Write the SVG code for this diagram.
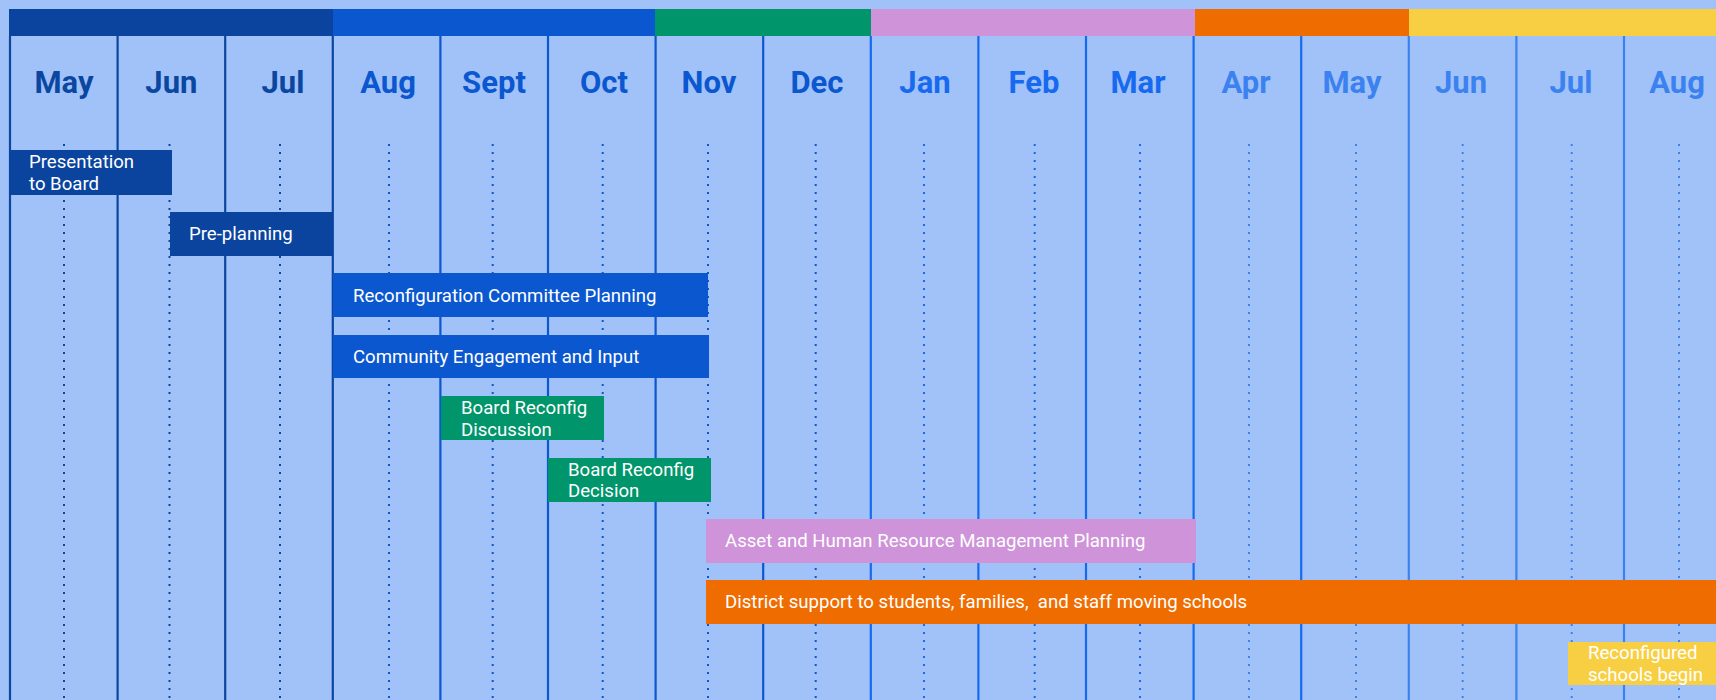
<svg xmlns="http://www.w3.org/2000/svg" width="1716" height="700" viewBox="0 0 1716 700">
<style>
.mon{font-family:Roboto,"Liberation Sans",sans-serif;font-weight:bold;font-size:31px;text-anchor:middle}
.lbl{font-family:Roboto,"Liberation Sans",sans-serif;font-size:18.6px;fill:#ffffff;white-space:pre}
.c1{fill:#0b47a1}.c2{fill:#0b57d0}.c3{fill:#176af0}.c4{fill:#3b82f0}
.s1{stroke:#0b47a1}.s2{stroke:#0b57d0}.s3{stroke:#176af0}.s4{stroke:#3b82f0}
.col{stroke-width:2.2;fill:none}
.dot{stroke-width:2;stroke-dasharray:2 6;fill:none}
</style>
<rect x="0" y="0" width="1716" height="700" fill="#a1c2f8"/>
<g id="header">
<rect x="9" y="9" width="324" height="27" fill="#0b449e"/>
<rect x="333" y="9" width="322" height="27" fill="#0b57d0"/>
<rect x="655" y="9" width="216" height="27" fill="#00956a"/>
<rect x="871" y="9" width="324" height="27" fill="#ce93d8"/>
<rect x="1195" y="9" width="214" height="27" fill="#ef6c00"/>
<rect x="1409" y="9" width="307" height="27" fill="#f8cf43"/>
</g>
<g id="grid">
<path class="col s1" d="M10 36V700M117.6 36V700M225.2 36V700M332.8 36V700"/>
<path class="col s2" d="M440.4 36V700M548 36V700M655.6 36V700M763.2 36V700"/>
<path class="col s3" d="M870.8 36V700M978.4 36V700M1086 36V700M1193.6 36V700M1301.2 36V700"/>
<path class="col s4" d="M1408.8 36V700M1516.4 36V700M1624 36V700"/>
<path class="dot s1" d="M64 144V700M169.5 144V700M280 144V700"/>
<path class="dot s2" d="M389 144V700M492.7 144V700M602.7 144V700M708 144V700M815.7 144V700"/>
<path class="dot s3" d="M924 144V700M1034.7 144V700M1140 144V700"/>
<path class="dot s4" d="M1249 144V700M1356 144V700M1462.7 144V700M1571.7 144V700M1679 144V700"/>
</g>
<g id="months">
<text class="mon c1" x="64" y="93">May</text>
<text class="mon c1" x="171.4" y="93">Jun</text>
<text class="mon c1" x="283" y="93">Jul</text>
<text class="mon c2" x="388" y="93">Aug</text>
<text class="mon c2" x="494" y="93">Sept</text>
<text class="mon c2" x="604" y="93">Oct</text>
<text class="mon c2" x="709" y="93">Nov</text>
<text class="mon c2" x="817" y="93">Dec</text>
<text class="mon c3" x="925" y="93">Jan</text>
<text class="mon c3" x="1034" y="93">Feb</text>
<text class="mon c3" x="1138" y="93">Mar</text>
<text class="mon c4" x="1246" y="93">Apr</text>
<text class="mon c4" x="1352" y="93">May</text>
<text class="mon c4" x="1461" y="93">Jun</text>
<text class="mon c4" x="1571" y="93">Jul</text>
<text class="mon c4" x="1677" y="93">Aug</text>
</g>
<g id="presentation">
<rect x="9" y="150" width="163" height="45" fill="#0b449e"/>
<text class="lbl" x="29" y="168">Presentation</text>
<text class="lbl" x="29" y="190">to Board</text>
</g>
<g id="preplanning">
<rect x="170" y="212" width="163" height="44" fill="#0b449e"/>
<text class="lbl" x="189" y="240">Pre-planning</text>
</g>
<g id="committee">
<rect x="333" y="273" width="375" height="44" fill="#0b57d0"/>
<text class="lbl" x="353" y="302">Reconfiguration Committee Planning</text>
</g>
<g id="community">
<rect x="333" y="335" width="376" height="43" fill="#0b57d0"/>
<text class="lbl" x="353" y="363">Community Engagement and Input</text>
</g>
<g id="discussion">
<rect x="441" y="396" width="163" height="44" fill="#00956a"/>
<text class="lbl" x="461" y="414">Board Reconfig</text>
<text class="lbl" x="461" y="436">Discussion</text>
</g>
<g id="decision">
<rect x="548" y="458" width="163" height="44" fill="#00956a"/>
<text class="lbl" x="568" y="476">Board Reconfig</text>
<text class="lbl" x="568" y="497">Decision</text>
</g>
<g id="asset">
<rect x="706" y="519" width="490" height="44" fill="#ce93d8"/>
<text class="lbl" x="725" y="547">Asset and Human Resource Management Planning</text>
</g>
<g id="district">
<rect x="706" y="580" width="1010" height="44" fill="#ef6c00"/>
<text class="lbl" x="725" y="608">District support to students, families,  and staff moving schools</text>
</g>
<g id="reconfigured">
<rect x="1568" y="642" width="148" height="43" fill="#f8cf43"/>
<text class="lbl" x="1588" y="659">Reconfigured</text>
<text class="lbl" x="1588" y="681">schools begin</text>
</g>
<g id="connectors"></g>
</svg>
